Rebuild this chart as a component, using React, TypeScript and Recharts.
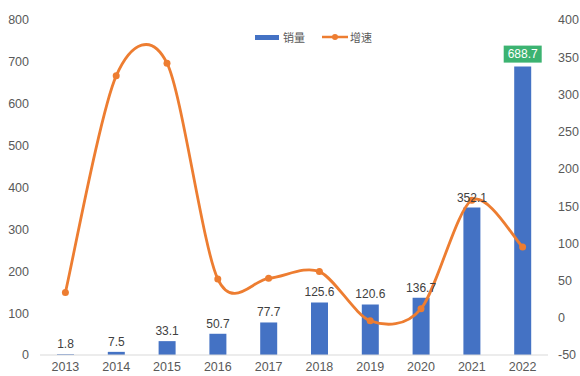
import React from 'react';
import { ComposedChart, Bar, Line, XAxis, YAxis, Legend, LabelList } from 'recharts';

const years = ['2013', '2014', '2015', '2016', '2017', '2018', '2019', '2020', '2021', '2022'];
const sales = [1.8, 7.5, 33.1, 50.7, 77.7, 125.6, 120.6, 136.7, 352.1, 688.7];
const growth = [34, 325, 342, 52, 53, 62, -4, 12, 158, 95];
const leftTicks = [0, 100, 200, 300, 400, 500, 600, 700, 800];
const rightTicks = [-50, 0, 50, 100, 150, 200, 250, 300, 350, 400];

const data = years.map((year, i) => ({ year, sales: sales[i], growth: growth[i] }));

const BLUE = '#4472c4';
const ORANGE = '#ed7d31';
const GREEN = '#3cb371';
const FONT = '"Liberation Sans", Arial, sans-serif';

// Catmull-Rom style smoothing, close to what office charts use for "smooth line"
const smoothCurve = (context: any) => {
  let pts: number[][] = [];
  return {
    areaStart() {},
    areaEnd() {},
    lineStart() {
      pts = [];
    },
    point(x: number, y: number) {
      pts.push([+x, +y]);
    },
    lineEnd() {
      if (!pts.length) return;
      context.moveTo(pts[0][0], pts[0][1]);
      const t = 0.15;
      for (let i = 0; i < pts.length - 1; i++) {
        const p0 = pts[Math.max(i - 1, 0)];
        const p1 = pts[i];
        const p2 = pts[i + 1];
        const p3 = pts[Math.min(i + 2, pts.length - 1)];
        context.bezierCurveTo(
          p1[0] + (p2[0] - p0[0]) * t,
          p1[1] + (p2[1] - p0[1]) * t,
          p2[0] - (p3[0] - p1[0]) * t,
          p2[1] - (p3[1] - p1[1]) * t,
          p2[0],
          p2[1]
        );
      }
    },
  };
};

const SalesLabel = (props: any) => {
  const { x, y, width, value, index } = props;
  const cx = x + width / 2;
  if (index === sales.length - 1) {
    const w = 38;
    const h = 17;
    return (
      <g>
        <rect x={cx - w / 2} y={y - 4 - h} width={w} height={h} fill={GREEN} />
        <text x={cx} y={y - 4 - h / 2} dy="0.35em" textAnchor="middle" fill="#fff" fontSize={12} fontFamily={FONT}>
          {value}
        </text>
      </g>
    );
  }
  return (
    <text x={cx} y={y - 6} textAnchor="middle" fill="#404040" fontSize={12} fontFamily={FONT}>
      {value}
    </text>
  );
};

const LegendBox = () => (
  <div
    style={{
      display: 'flex',
      alignItems: 'center',
      fontFamily: '"Noto Sans CJK SC", sans-serif',
      fontSize: 11,
      color: '#595959',
      lineHeight: '14px',
    }}
  >
    <span style={{ display: 'inline-block', width: 24, height: 5, background: BLUE, marginRight: 4 }} />
    <span style={{ marginRight: 17 }}>销量</span>
    <svg width={26} height={8} style={{ marginRight: 2 }}>
      <line x1={0} y1={4} x2={26} y2={4} stroke={ORANGE} strokeWidth={2.5} />
      <circle cx={13} cy={4} r={3} fill={ORANGE} />
    </svg>
    <span>增速</span>
  </div>
);

export default function App() {
  return (
    <div style={{ position: 'absolute', left: 0, top: 0, width: 580, height: 376, background: '#fff' }}>
      <ComposedChart width={580} height={376} data={data} margin={{ top: 20, right: 0, bottom: 0, left: 0 }}>
        <XAxis
          dataKey="year"
          height={21}
          tickLine={false}
          tickSize={0}
          tickMargin={7}
          axisLine={{ stroke: '#d9d9d9' }}
          tick={{ fill: '#595959', fontSize: 12.5, fontFamily: FONT }}
          interval={0}
        />
        <YAxis
          yAxisId="left"
          width={40}
          domain={[0, 800]}
          ticks={leftTicks}
          axisLine={false}
          tickLine={false}
          tickSize={0}
          tickMargin={11}
          tick={{ fill: '#595959', fontSize: 12.5, fontFamily: FONT }}
        />
        <YAxis
          yAxisId="right"
          orientation="right"
          width={32}
          domain={[-50, 400]}
          ticks={rightTicks}
          axisLine={false}
          tickLine={false}
          tickSize={0}
          tickMargin={10}
          tick={{ fill: '#595959', fontSize: 12.5, fontFamily: FONT, textAnchor: 'start' }}
        />
        <Legend
          layout="horizontal"
          verticalAlign="middle"
          align="center"
          wrapperStyle={{ top: 30, left: 255, width: 160, height: 14 }}
          content={LegendBox}
        />
        <Bar yAxisId="left" dataKey="sales" name="销量" fill={BLUE} barSize={17} isAnimationActive={false}>
          <LabelList dataKey="sales" content={SalesLabel} />
        </Bar>
        <Line
          yAxisId="right"
          dataKey="growth"
          name="增速"
          type={smoothCurve as any}
          stroke={ORANGE}
          strokeWidth={2.8}
          dot={{ r: 3.5, fill: ORANGE, stroke: ORANGE, strokeWidth: 0 }}
          activeDot={false}
          isAnimationActive={false}
        />
      </ComposedChart>
    </div>
  );
}
